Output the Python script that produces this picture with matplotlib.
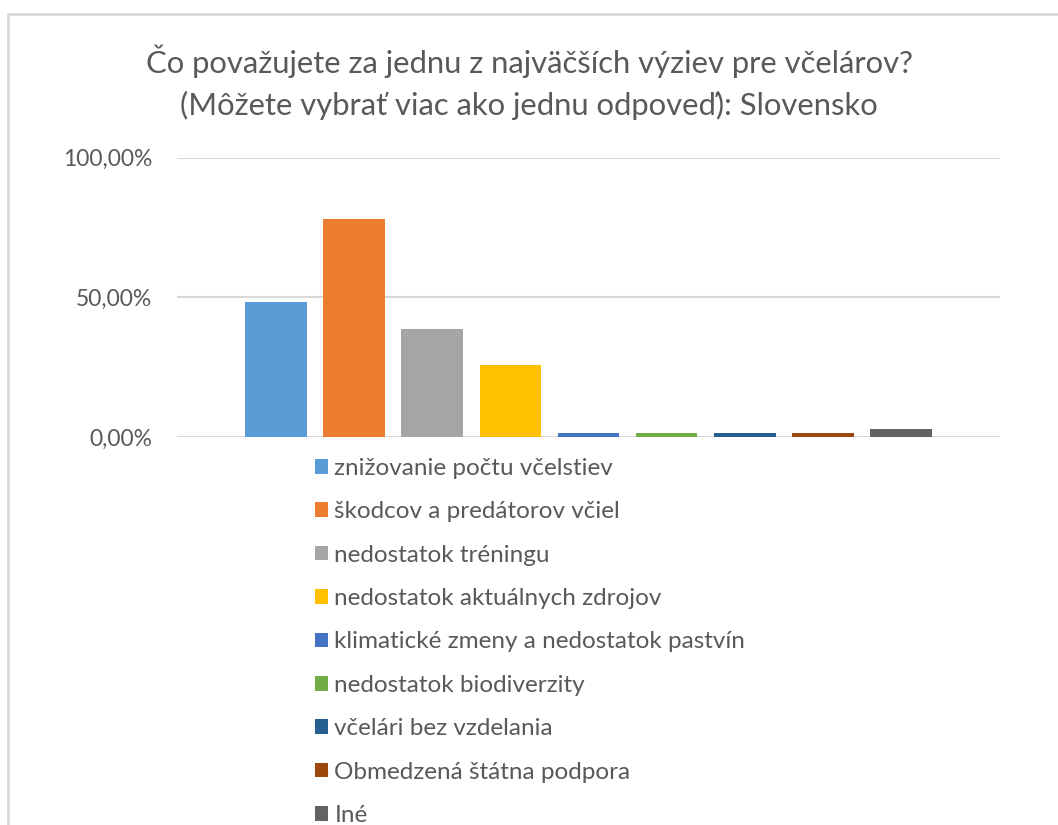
import numpy as np
import matplotlib
matplotlib.use("Agg")
from matplotlib import pyplot as plt
from matplotlib.patches import Rectangle
from matplotlib.ticker import FuncFormatter

# data (share of respondents)
categories = [
    "znižovanie počtu včelstiev",
    "škodcov a predátorov včiel",
    "nedostatok tréningu",
    "nedostatok aktuálnych zdrojov",
    "klimatické zmeny a nedostatok pastvín",
    "nedostatok biodiverzity",
    "včelári bez vzdelania",
    "Obmedzená štátna podpora",
    "Iné",
]
values = [0.483, 0.779, 0.385, 0.258, 0.0137, 0.0137, 0.0137, 0.0137, 0.0274]
colors = ["#5B9BD5", "#ED7D31", "#A5A5A5", "#FFC000", "#4472C4",
          "#70AD47", "#255E91", "#9E480E", "#636363"]
yticks = [0.0, 0.5, 1.0]

title = ("Čo považujete za jednu z najväčších výziev pre včelárov?\n"
         "(Môžete vybrať viac ako jednu odpoveď): Slovensko")

plt.rcParams['font.family'] = ['Lato', 'DejaVu Sans']
W, H = 1058, 825
fig = plt.figure(figsize=(W / 100, H / 100), dpi=100)

# chart frame (screenshot of excel chart)
fig.patches.append(Rectangle((8 / W, -0.1), 1.2, 1 - 14 / H + 0.1,
                             transform=fig.transFigure, fill=False,
                             edgecolor="#d9d9d9", linewidth=2))

ax = fig.add_axes([177 / W, 1 - 437 / H, (1000 - 177) / W, (437 - 157.5) / H])
x = np.arange(len(values))
bars = ax.bar(x, values, width=0.79, color=colors, zorder=3)

ax.set_xlim(-1.27, 9.27)
ax.set_ylim(0, 1)
ax.set_yticks(yticks)
ax.yaxis.set_major_formatter(FuncFormatter(lambda v, p: f"{v*100:.2f}%".replace(".", ",")))
ax.tick_params(axis="y", length=0, pad=18, labelsize=16.5, labelcolor="#595959")
ax.set_xticks([])
ax.grid(axis="y", color="#d9d9d9", linewidth=1.5, zorder=0)
for s in ax.spines.values():
    s.set_visible(False)

fig.text(0.5, 1 - 82 / H, title, ha="center", va="center", fontsize=22.3,
         color="#595959", linespacing=1.55)

leg = fig.legend(bars, categories, loc="upper left",
                 bbox_to_anchor=(315 / W, 1 - 458 / H), frameon=False,
                 fontsize=17.5, labelcolor="#595959", handlelength=0.55,
                 handleheight=0.55, handletextpad=0.25, labelspacing=0.92,
                 borderaxespad=0, borderpad=0)

fig.savefig("out.png", dpi=100, facecolor="white")
